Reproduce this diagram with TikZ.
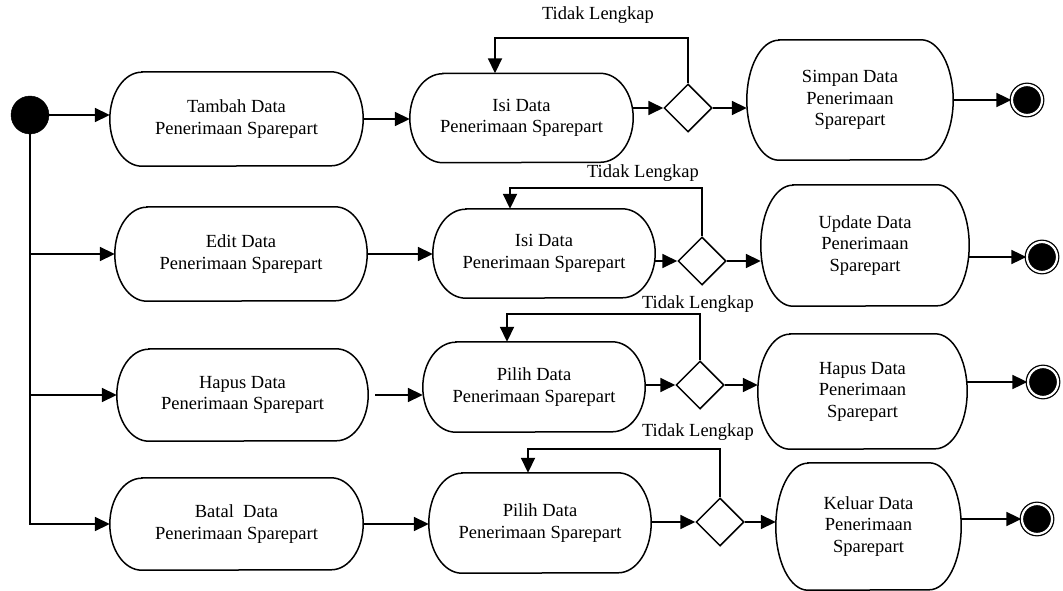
\documentclass[tikz,border=0pt]{standalone}
\usepackage{fontspec}
\setmainfont{Liberation Serif}
\usetikzlibrary{arrows.meta,shapes.geometric,calc}
\tikzset{
  txt/.style={font=\fontsize{18.5}{21.5}\selectfont, align=center},
  act/.style={txt, draw=none, inner sep=0pt},
  outline/.style={draw=black, line width=1.5pt},
  dec/.style={diamond, draw=black, line width=1.5pt, fill=white, minimum width=48pt, minimum height=48pt, inner sep=0pt},
  arr/.style={draw=black, line width=1.8pt, -{Triangle[length=15pt,width=14pt]}},
  initnode/.style={circle, fill=black, draw=black, minimum size=38pt, inner sep=0pt},
  finalnode/.style={circle, fill=black, draw=black, line width=1.3pt, double=white, double distance=2.2pt, minimum size=30pt, inner sep=0pt},
  lbl/.style={txt, inner sep=0pt}
}
\begin{document}
\begin{tikzpicture}[x=1pt,y=-1pt]
\useasboundingbox (0,0) rectangle (1063,591);

% initial node
\node[initnode] (init) at (30,115) {};

% row 1
\node[act, minimum width=253pt, minimum height=94pt] (t1) at (236.5,119) {Tambah Data\\Penerimaan Sparepart};
\node[act, minimum width=223pt, minimum height=89pt] (i1) at (521.5,118) {Isi Data\\Penerimaan Sparepart};
\node[dec] (d1) at (688,108) {};
\node[act, minimum width=206pt, minimum height=120pt] (s1) at (850,100) {Simpan Data\\Penerimaan\\Sparepart};
\node[finalnode] (f1) at (1027,100) {};

% row 2
\node[act, minimum width=252pt, minimum height=94pt] (e1) at (241,254) {Edit Data\\Penerimaan Sparepart};
\node[act, minimum width=222pt, minimum height=89pt] (i2) at (544,253.5) {Isi Data\\Penerimaan Sparepart};
\node[dec] (d2) at (702,261) {};
\node[act, minimum width=208pt, minimum height=121pt] (u1) at (865,245.5) {Update Data\\Penerimaan\\Sparepart};
\node[finalnode] (f2) at (1042,257) {};

% row 3
\node[act, minimum width=251pt, minimum height=92pt] (h1) at (242.5,395) {Hapus Data\\Penerimaan Sparepart};
\node[act, minimum width=222pt, minimum height=90pt] (p1) at (534,387) {Pilih Data\\Penerimaan Sparepart};
\node[dec] (d3) at (700,385) {};
\node[act, minimum width=209pt, minimum height=115pt] (hp) at (862.5,391.5) {Hapus Data\\Penerimaan\\Sparepart};
\node[finalnode] (f3) at (1043,382) {};

% row 4
\node[act, minimum width=253pt, minimum height=92pt] (b1) at (236.5,524) {Batal\ \ Data\\Penerimaan Sparepart};
\node[act, minimum width=222pt, minimum height=100pt] (p2) at (540,523) {Pilih Data\\Penerimaan Sparepart};
\node[dec] (d4) at (720,522) {};
\node[act, minimum width=185pt, minimum height=127pt] (k1) at (868.5,526.5) {Keluar Data\\Penerimaan\\Sparepart};
\node[finalnode] (f4) at (1037,519) {};

% outlines of the action boxes (elliptical ends)
\foreach \b/\r/\hh in {t1/32/47, i1/33/44.5, s1/32/60, e1/32/47, i2/33/44.5, u1/32/60.5, h1/32/46, p1/33/45, hp/32/57.5, b1/32/46, p2/33/50, k1/32/63.5}{
  \draw[outline] ([xshift=\r pt]\b.north west) -- ([xshift=-\r pt]\b.north east)
    arc[start angle=90, end angle=-90, x radius=\r pt, y radius=\hh pt]
    -- ([xshift=\r pt]\b.south west)
    arc[start angle=270, end angle=90, x radius=\r pt, y radius=\hh pt] -- cycle;
}

% loop labels
\node[lbl] (g1) at (598,15) {Tidak Lengkap};
\node[lbl] (g2) at (643,173) {Tidak Lengkap};
\node[lbl] (g3) at (698,304) {Tidak Lengkap};
\node[lbl] (g4) at (698,432) {Tidak Lengkap};

% loop corners
\coordinate (l1) at (495,38);
\coordinate (l2) at (510,188);
\coordinate (l3) at (507,314);
\coordinate (l4) at (528,449);

% connectors row 1
\draw[arr] (init) -- (init -| t1.west);
\draw[arr] (t1.east) -- (t1.east -| i1.west);
\draw[arr] (d1.west -| i1.east) -- (d1.west);
\draw[arr] (d1.east) -- (d1.east -| s1.west);
\draw[arr] (f1 -| s1.east) -- (f1);
\draw[arr] (d1.north) |- (l1) -- (l1 |- i1.north);

% connectors row 2
\draw[arr] (init |- e1.west) -- (e1.west);
\draw[arr] (e1.east) -- (e1.east -| i2.west);
\draw[arr] (d2.west -| i2.east) -- (d2.west);
\draw[arr] (d2.east) -- (d2.east -| u1.west);
\draw[arr] (f2 -| u1.east) -- (f2);
\draw[arr] (d2.north) |- (l2) -- (l2 |- i2.north);

% connectors row 3
\draw[arr] (init |- h1.west) -- (h1.west);
\draw[arr] ([xshift=7pt]h1.east) -- (h1.east -| p1.west);
\draw[arr] (d3.west -| p1.east) -- (d3.west);
\draw[arr] (d3.east) -- (d3.east -| hp.west);
\draw[arr] (f3 -| hp.east) -- (f3);
\draw[arr] (d3.north) |- (l3) -- (l3 |- p1.north);

% connectors row 4 (with trunk)
\draw[arr] (init) |- (b1.west);
\draw[arr] (b1.east) -- (b1.east -| p2.west);
\draw[arr] (d4.west -| p2.east) -- (d4.west);
\draw[arr] (d4.east) -- (d4.east -| k1.west);
\draw[arr] (f4 -| k1.east) -- (f4);
\draw[arr] (d4.north) |- (l4) -- (l4 |- p2.north);
\end{tikzpicture}
\end{document}
